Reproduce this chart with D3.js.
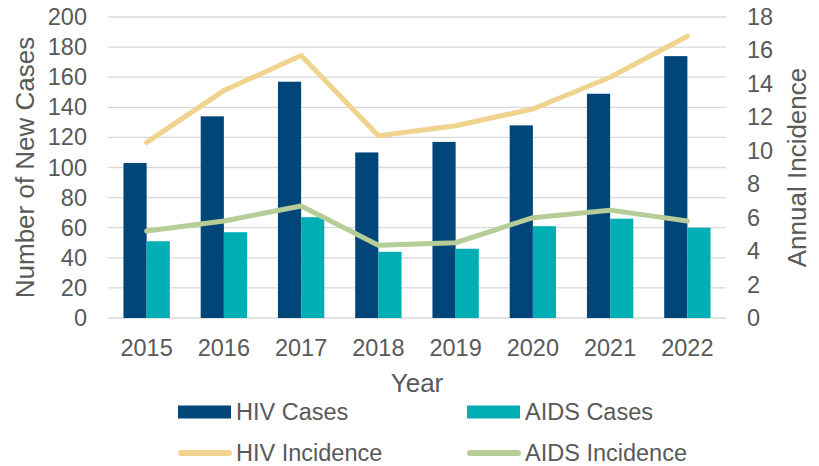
<!DOCTYPE html>
<html>
<head>
<meta charset="utf-8">
<script src="https://cdn.jsdelivr.net/npm/d3@7"></script>
<style>
  body { margin: 0; background: #fff; }
  text { font-family: 'Liberation Sans', Arial, sans-serif; fill: #595959; }
</style>
</head>
<body>
<svg id="chart"></svg>
<script>
const years = ['2015', '2016', '2017', '2018', '2019', '2020', '2021', '2022']
const hivCases = [103, 134, 157, 110, 117, 128, 149, 174]
const aidsCases = [51, 57, 67, 44, 46, 61, 66, 60]
const hivIncidence = [10.5, 13.6, 15.7, 10.9, 11.5, 12.5, 14.4, 16.85]
const aidsIncidence = [5.2, 5.8, 6.7, 4.35, 4.5, 6.0, 6.45, 5.8]
const leftTicks = d3.range(0, 201, 20)
const rightTicks = d3.range(0, 19, 2)

const width = 819
const height = 466
const margin = { top: 17, right: 93, bottom: 148, left: 108 }
const plotW = width - margin.left - margin.right
const plotH = height - margin.top - margin.bottom

const colors = {
  hivCases: '#004678',
  aidsCases: '#00aeb3',
  hivInc: '#f0d38e',
  aidsInc: '#b6cd98',
}

const tickFont = 23.5
const titleFont = 26

const svg = d3
  .select('#chart')
  .attr('width', width)
  .attr('height', height)
  .attr('viewBox', [0, 0, width, height])

const g = svg.append('g').attr('transform', `translate(${margin.left},${margin.top})`)

const x = d3.scaleBand().domain(years).range([0, plotW]).paddingInner(0.4).paddingOuter(0.2)
const xs = d3.scaleBand().domain(['hiv', 'aids']).range([0, x.bandwidth()])
const yL = d3.scaleLinear().domain([0, 200]).range([plotH, 0])
const yR = d3.scaleLinear().domain([0, 18]).range([plotH, 0])

// gridlines
g.append('g')
  .selectAll('line')
  .data(leftTicks)
  .join('line')
  .attr('x1', 0)
  .attr('x2', plotW)
  .attr('y1', (d) => yL(d))
  .attr('y2', (d) => yL(d))
  .attr('stroke', '#d9d9d9')
  .attr('stroke-width', 1.3)

// bars
const groups = g
  .append('g')
  .selectAll('g')
  .data(years)
  .join('g')
  .attr('transform', (d) => `translate(${x(d)},0)`)

groups
  .append('rect')
  .attr('x', xs('hiv'))
  .attr('width', xs.bandwidth())
  .attr('y', (d, i) => yL(hivCases[i]))
  .attr('height', (d, i) => plotH - yL(hivCases[i]))
  .attr('fill', colors.hivCases)

groups
  .append('rect')
  .attr('x', xs('aids'))
  .attr('width', xs.bandwidth())
  .attr('y', (d, i) => yL(aidsCases[i]))
  .attr('height', (d, i) => plotH - yL(aidsCases[i]))
  .attr('fill', colors.aidsCases)

// lines
const line = d3
  .line()
  .x((d, i) => x(years[i]) + x.bandwidth() / 2)
  .y((d) => yR(d))

g.append('path')
  .datum(hivIncidence)
  .attr('d', line)
  .attr('fill', 'none')
  .attr('stroke', colors.hivInc)
  .attr('stroke-width', 5)
  .attr('stroke-linejoin', 'round')
  .attr('stroke-linecap', 'round')

g.append('path')
  .datum(aidsIncidence)
  .attr('d', line)
  .attr('fill', 'none')
  .attr('stroke', colors.aidsInc)
  .attr('stroke-width', 5)
  .attr('stroke-linejoin', 'round')
  .attr('stroke-linecap', 'round')

// axes
const leftAxis = g.append('g').call(d3.axisLeft(yL).tickValues(leftTicks).tickSize(0).tickPadding(21))
const rightAxis = g
  .append('g')
  .attr('transform', `translate(${plotW},0)`)
  .call(d3.axisRight(yR).tickValues(rightTicks).tickSize(0).tickPadding(21))
const bottomAxis = g
  .append('g')
  .attr('transform', `translate(0,${plotH})`)
  .call(d3.axisBottom(x).tickSize(0).tickPadding(21))

;[leftAxis, rightAxis, bottomAxis].forEach((a) => {
  a.select('.domain').remove()
  a.selectAll('text').style('font-size', tickFont + 'px').attr('fill', '#595959')
})
;[leftAxis, rightAxis, bottomAxis].forEach((a) => a.attr('font-family', null))

// axis titles
svg
  .append('text')
  .attr('transform', `translate(34,${margin.top + plotH / 2}) rotate(-90)`)
  .attr('text-anchor', 'middle')
  .style('font-size', titleFont + 'px')
  .text('Number of New Cases')

svg
  .append('text')
  .attr('transform', `translate(806,${margin.top + plotH / 2}) rotate(-90)`)
  .attr('text-anchor', 'middle')
  .style('font-size', titleFont + 'px')
  .text('Annual Incidence')

svg
  .append('text')
  .attr('x', margin.left + plotW / 2)
  .attr('y', 392)
  .attr('text-anchor', 'middle')
  .style('font-size', titleFont + 'px')
  .text('Year')

// legend
const legendItems = [
  { label: 'HIV Cases', color: colors.hivCases, type: 'rect', col: 0, row: 0 },
  { label: 'AIDS Cases', color: colors.aidsCases, type: 'rect', col: 1, row: 0 },
  { label: 'HIV Incidence', color: colors.hivInc, type: 'line', col: 0, row: 1 },
  { label: 'AIDS Incidence', color: colors.aidsInc, type: 'line', col: 1, row: 1 },
]

const legend = svg
  .append('g')
  .selectAll('g')
  .data(legendItems)
  .join('g')
  .attr('transform', (d) => `translate(${178 + d.col * 289},${412 + d.row * 41})`)

legend
  .filter((d) => d.type === 'rect')
  .append('rect')
  .attr('x', 0)
  .attr('y', -6.5)
  .attr('width', 53)
  .attr('height', 13)
  .attr('fill', (d) => d.color)

legend
  .filter((d) => d.type === 'line')
  .append('line')
  .attr('x1', 3)
  .attr('x2', 51)
  .attr('stroke', (d) => d.color)
  .attr('stroke-width', 6)
  .attr('stroke-linecap', 'round')

legend
  .append('text')
  .attr('x', 58)
  .attr('dy', '0.36em')
  .style('font-size', tickFont + 'px')
  .text((d) => d.label)
</script>
</body>
</html>
